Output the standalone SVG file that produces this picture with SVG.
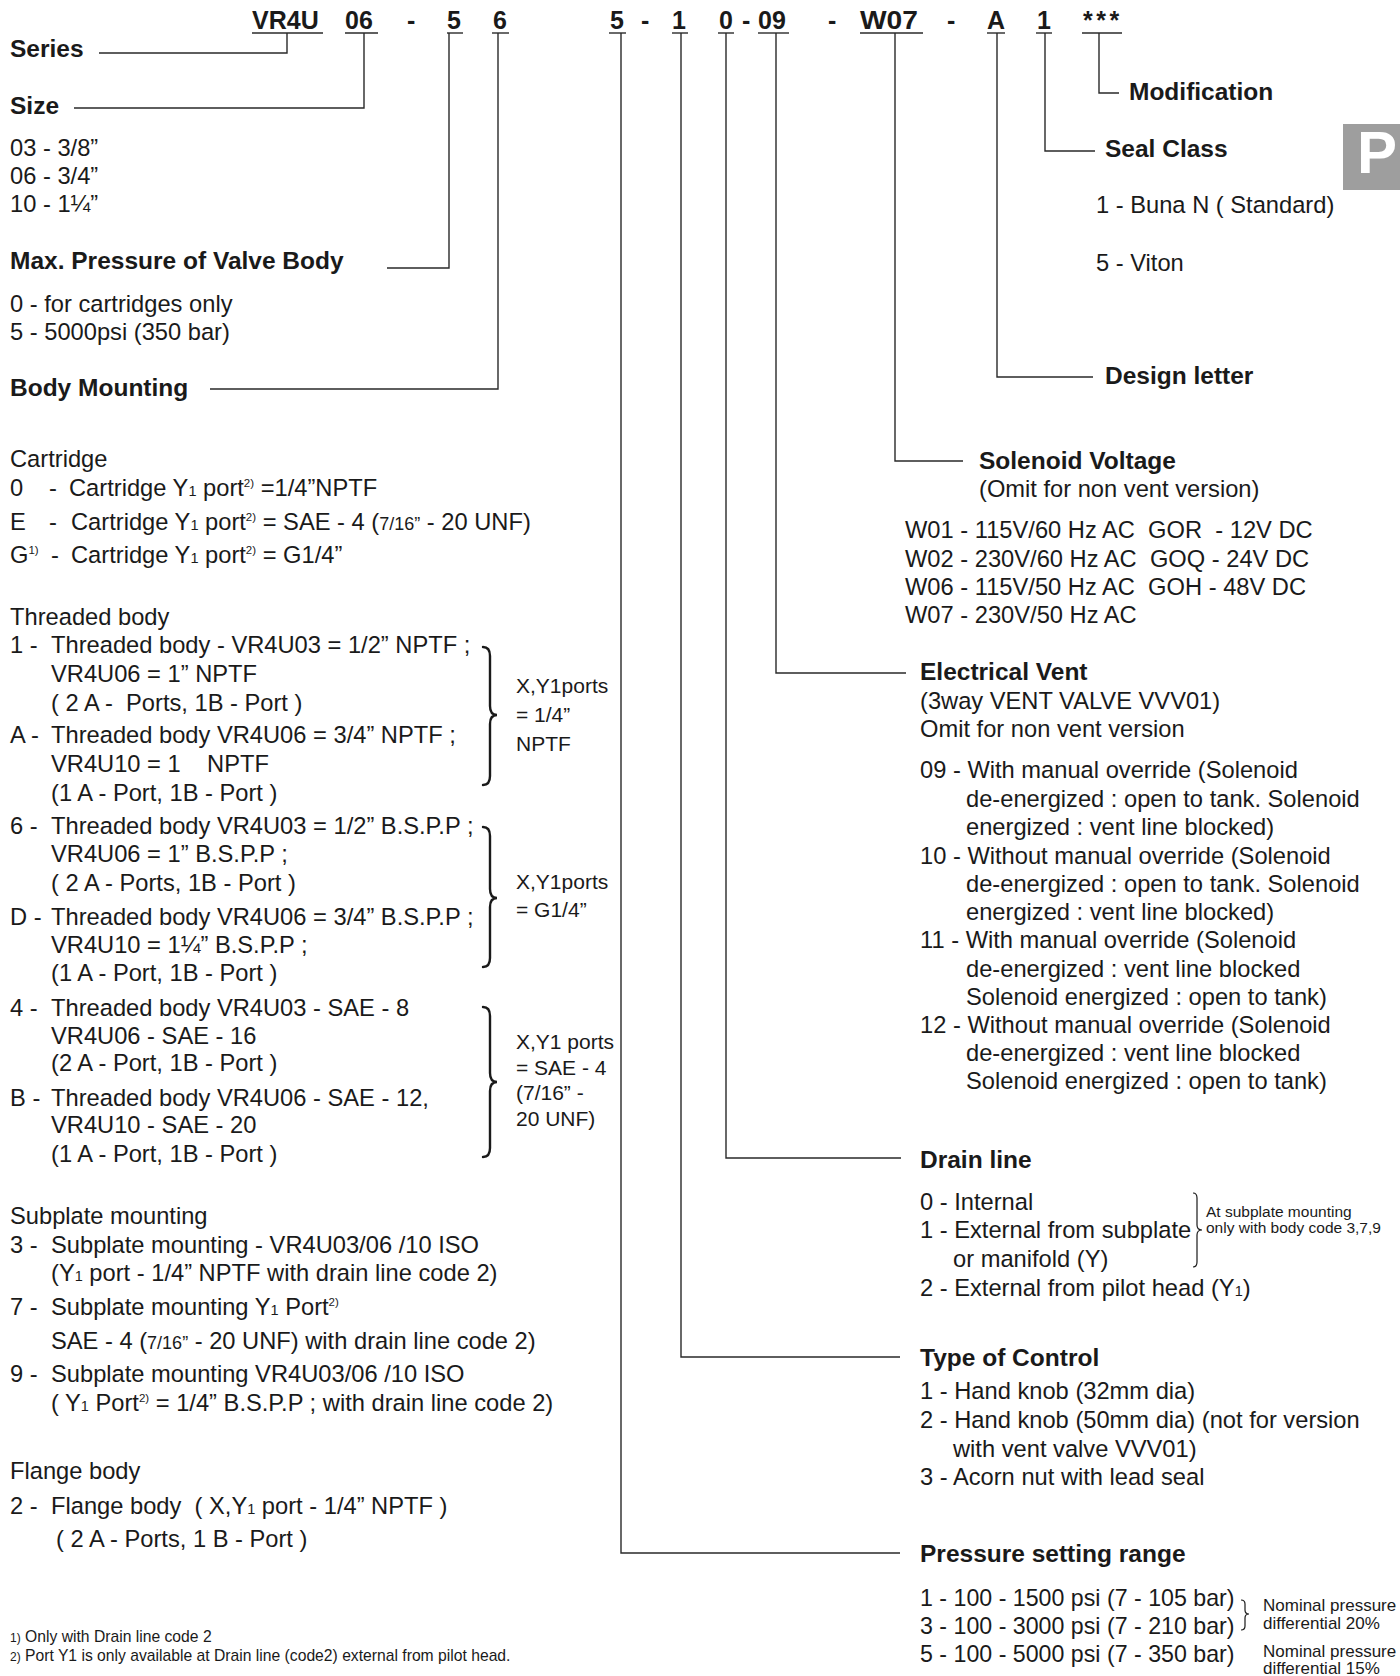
<svg xmlns="http://www.w3.org/2000/svg" width="1400" height="1676" viewBox="0 0 1400 1676">
<style>
text{font-family:"Liberation Sans",Arial,sans-serif;fill:#1a1a1a}
.t{font-size:23.7px}
.p{font-size:23.2px}
.b{font-size:24.5px;font-weight:bold}
.h{font-size:25px;font-weight:bold}
.s{font-size:21px}
.n{font-size:17px}
.m{font-size:15.5px}
.f{font-size:15.7px}
.sub{font-size:14.5px}
.sup{font-size:11.5px}
.fr{font-size:18px}
.ln{fill:none;stroke:#2a2a2a;stroke-width:1.4}
.br{fill:none;stroke:#1a1a1a;stroke-width:2.4;stroke-linecap:round}
.brt{fill:none;stroke:#1a1a1a;stroke-width:1.2}
</style>
<rect width="1400" height="1676" fill="#ffffff"/>

<g id="header">
<text class="h" x="252" y="29">VR4U</text>
<text class="h" x="345" y="29">06</text>
<text class="h" x="407" y="29">-</text>
<text class="h" x="447" y="29">5</text>
<text class="h" x="493" y="29">6</text>
<text class="h" x="610" y="29">5</text>
<text class="h" x="641" y="29">-</text>
<text class="h" x="672" y="29">1</text>
<text class="h" x="719" y="29">0</text>
<text class="h" x="742" y="29">-</text>
<text class="h" x="758" y="29">09</text>
<text class="h" x="828" y="29">-</text>
<text class="h" x="860" y="29" textLength="58" lengthAdjust="spacingAndGlyphs">W07</text>
<text class="h" x="947" y="29">-</text>
<text class="h" x="987" y="29">A</text>
<text class="h" x="1037" y="29">1</text>
<text class="h" x="1083" y="29" letter-spacing="3.5">***</text>
<g class="ln">
<line x1="252" y1="33" x2="323" y2="33"/>
<line x1="345" y1="33" x2="378" y2="33"/>
<line x1="447" y1="33" x2="463" y2="33"/>
<line x1="492" y1="33" x2="509" y2="33"/>
<line x1="609" y1="33" x2="626" y2="33"/>
<line x1="672" y1="33" x2="688" y2="33"/>
<line x1="718" y1="33" x2="734" y2="33"/>
<line x1="758" y1="33" x2="789" y2="33"/>
<line x1="860" y1="33" x2="923" y2="33"/>
<line x1="987" y1="33" x2="1005" y2="33"/>
<line x1="1036" y1="33" x2="1052" y2="33"/>
<line x1="1082" y1="33" x2="1122" y2="33"/>
</g>
</g>

<g id="connectors" class="ln">
<polyline points="287,33 287,53 99,53"/>
<polyline points="364,33 364,108 74,108"/>
<polyline points="449,33 449,268 387,268"/>
<polyline points="498,33 498,389 210,389"/>
<polyline points="621,33 621,1553 900,1553"/>
<polyline points="681,33 681,1357 900,1357"/>
<polyline points="726,33 726,1158 901,1158"/>
<polyline points="776,33 776,673 906,673"/>
<polyline points="895,33 895,461 963,461"/>
<polyline points="997,33 997,377 1093,377"/>
<polyline points="1045,33 1045,151 1095,151"/>
<polyline points="1099,33 1099,93 1119,93"/>
</g>

<g id="tab">
<rect x="1343" y="124" width="57" height="66" fill="#9e9e9e"/>
<text x="1357" y="173" style="font-size:60px;font-weight:bold;fill:#ffffff">P</text>
</g>

<g id="series"><text class="b" x="10" y="57">Series</text></g>

<g id="size">
<text class="b" x="10" y="114">Size</text>
<text class="t" x="10" y="156">03 - 3/8”</text>
<text class="t" x="10" y="184">06 - 3/4”</text>
<text class="t" x="10" y="212">10 - 1¼”</text>
</g>

<g id="max-pressure">
<text class="b" x="10" y="269">Max. Pressure of Valve Body</text>
<text class="t" x="10" y="312">0 - for cartridges only</text>
<text class="t" x="10" y="340">5 - 5000psi (350 bar)</text>
</g>

<g id="body-mounting">
<text class="b" x="10" y="396">Body Mounting</text>
<text class="t" x="10" y="467">Cartridge</text>
<text class="t" y="496"><tspan x="10">0</tspan><tspan x="49">-</tspan><tspan x="69">Cartridge Y</tspan><tspan class="sub">1</tspan><tspan> port</tspan><tspan class="sup" dy="-9">2)</tspan><tspan dy="9"> =1/4”NPTF</tspan></text>
<text class="t" y="530"><tspan x="10">E</tspan><tspan x="49">-</tspan><tspan x="71">Cartridge Y</tspan><tspan class="sub">1</tspan><tspan> port</tspan><tspan class="sup" dy="-9">2)</tspan><tspan dy="9"> = SAE - 4 (</tspan><tspan class="fr">7/16”</tspan><tspan> - 20 UNF)</tspan></text>
<text class="t" y="563"><tspan x="10">G</tspan><tspan class="sup" dy="-9">1)</tspan><tspan x="51" dy="9">-</tspan><tspan x="71">Cartridge Y</tspan><tspan class="sub">1</tspan><tspan> port</tspan><tspan class="sup" dy="-9">2)</tspan><tspan dy="9"> = G1/4”</tspan></text>

<text class="t" x="10" y="625">Threaded body</text>
<text class="t" y="653"><tspan x="10">1 -</tspan><tspan x="51">Threaded body - VR4U03 = 1/2” NPTF ;</tspan></text>
<text class="t" x="51" y="682">VR4U06 = 1” NPTF</text>
<text class="t" x="51" y="711" xml:space="preserve">( 2 A -  Ports, 1B - Port )</text>
<text class="t" y="743"><tspan x="10">A -</tspan><tspan x="51">Threaded body VR4U06 = 3/4” NPTF ;</tspan></text>
<text class="t" x="51" y="772" xml:space="preserve">VR4U10 = 1    NPTF</text>
<text class="t" x="51" y="801">(1 A - Port, 1B - Port )</text>
<text class="t" y="834"><tspan x="10">6 -</tspan><tspan x="51">Threaded body VR4U03 = 1/2” B.S.P.P ;</tspan></text>
<text class="t" x="51" y="862">VR4U06 = 1” B.S.P.P ;</text>
<text class="t" x="51" y="891">( 2 A - Ports, 1B - Port )</text>
<text class="t" y="925"><tspan x="10">D -</tspan><tspan x="51">Threaded body VR4U06 = 3/4” B.S.P.P ;</tspan></text>
<text class="t" x="51" y="953">VR4U10 = 1¼” B.S.P.P ;</text>
<text class="t" x="51" y="981">(1 A - Port, 1B - Port )</text>
<text class="t" y="1016"><tspan x="10">4 -</tspan><tspan x="51">Threaded body VR4U03 - SAE - 8</tspan></text>
<text class="t" x="51" y="1044">VR4U06 - SAE - 16</text>
<text class="t" x="51" y="1071">(2 A - Port, 1B - Port )</text>
<text class="t" y="1106"><tspan x="10">B -</tspan><tspan x="51">Threaded body VR4U06 - SAE - 12,</tspan></text>
<text class="t" x="51" y="1133">VR4U10 - SAE - 20</text>
<text class="t" x="51" y="1162">(1 A - Port, 1B - Port )</text>

<path class="br" d="M483,647 Q490,647 490,656 L490,706 Q490,715 497,715 Q490,715 490,724 L490,776 Q490,785 483,785"/>
<text class="s" x="516" y="693">X,Y1ports</text>
<text class="s" x="516" y="722">= 1/4”</text>
<text class="s" x="516" y="751">NPTF</text>

<path class="br" d="M483,827 Q490,827 490,836 L490,889 Q490,898 497,898 Q490,898 490,907 L490,958 Q490,967 483,967"/>
<text class="s" x="516" y="889">X,Y1ports</text>
<text class="s" x="516" y="917">= G1/4”</text>

<path class="br" d="M483,1007 Q490,1007 490,1016 L490,1073 Q490,1082 497,1082 Q490,1082 490,1091 L490,1148 Q490,1157 483,1157"/>
<text class="s" x="516" y="1049">X,Y1 ports</text>
<text class="s" x="516" y="1075">= SAE - 4</text>
<text class="s" x="516" y="1100">(7/16” -</text>
<text class="s" x="516" y="1126">20 UNF)</text>

<text class="t" x="10" y="1224">Subplate mounting</text>
<text class="t" y="1253"><tspan x="10">3 -</tspan><tspan x="51">Subplate mounting - VR4U03/06 /10 ISO</tspan></text>
<text class="t" x="51" y="1281"><tspan>(Y</tspan><tspan class="sub">1</tspan><tspan> port - 1/4” NPTF with drain line code 2)</tspan></text>
<text class="t" y="1315"><tspan x="10">7 -</tspan><tspan x="51">Subplate mounting Y</tspan><tspan class="sub">1</tspan><tspan> Port</tspan><tspan class="sup" dy="-9">2)</tspan></text>
<text class="t" x="51" y="1349"><tspan>SAE - 4 (</tspan><tspan class="fr">7/16”</tspan><tspan> - 20 UNF) with drain line code 2)</tspan></text>
<text class="t" y="1382"><tspan x="10">9 -</tspan><tspan x="51">Subplate mounting VR4U03/06 /10 ISO</tspan></text>
<text class="t" x="51" y="1411"><tspan>( Y</tspan><tspan class="sub">1</tspan><tspan> Port</tspan><tspan class="sup" dy="-9">2)</tspan><tspan dy="9"> = 1/4” B.S.P.P ; with drain line code 2)</tspan></text>

<text class="t" x="10" y="1479">Flange body</text>
<text class="t" y="1514" xml:space="preserve"><tspan x="10">2 -</tspan><tspan x="51">Flange body  ( X,Y</tspan><tspan class="sub">1</tspan><tspan> port - 1/4” NPTF )</tspan></text>
<text class="t" x="56" y="1547">( 2 A - Ports, 1 B - Port )</text>
</g>

<g id="footnotes">
<text class="f" x="10" y="1642"><tspan font-size="12">1)</tspan><tspan> Only with Drain line code 2</tspan></text>
<text class="f" x="10" y="1661"><tspan font-size="12">2)</tspan><tspan> Port Y1 is only available at Drain line (code2) external from pilot head.</tspan></text>
</g>

<g id="modification"><text class="b" x="1129" y="100">Modification</text></g>

<g id="seal-class">
<text class="b" x="1105" y="157">Seal Class</text>
<text class="t" x="1096" y="213">1 - Buna N ( Standard)</text>
<text class="t" x="1096" y="271">5 - Viton</text>
</g>

<g id="design-letter"><text class="b" x="1105" y="384">Design letter</text></g>

<g id="solenoid-voltage">
<text class="b" x="979" y="469">Solenoid Voltage</text>
<text class="t" x="979" y="497">(Omit for non vent version)</text>
<text class="t" x="905" y="538" xml:space="preserve">W01 - 115V/60 Hz AC  GOR  - 12V DC</text>
<text class="t" x="905" y="567" xml:space="preserve">W02 - 230V/60 Hz AC  GOQ - 24V DC</text>
<text class="t" x="905" y="595" xml:space="preserve">W06 - 115V/50 Hz AC  GOH - 48V DC</text>
<text class="t" x="905" y="623">W07 - 230V/50 Hz AC</text>
</g>

<g id="electrical-vent">
<text class="b" x="920" y="680">Electrical Vent</text>
<text class="t" x="920" y="709">(3way VENT VALVE VVV01)</text>
<text class="t" x="920" y="737">Omit for non vent version</text>
<text class="t" x="920" y="778">09 - With manual override (Solenoid</text>
<text class="t" x="966" y="807">de-energized : open to tank. Solenoid</text>
<text class="t" x="966" y="835">energized : vent line blocked)</text>
<text class="t" x="920" y="864">10 - Without manual override (Solenoid</text>
<text class="t" x="966" y="892">de-energized : open to tank. Solenoid</text>
<text class="t" x="966" y="920">energized : vent line blocked)</text>
<text class="t" x="920" y="948">11 - With manual override (Solenoid</text>
<text class="t" x="966" y="977">de-energized : vent line blocked</text>
<text class="t" x="966" y="1005">Solenoid energized : open to tank)</text>
<text class="t" x="920" y="1033">12 - Without manual override (Solenoid</text>
<text class="t" x="966" y="1061">de-energized : vent line blocked</text>
<text class="t" x="966" y="1089">Solenoid energized : open to tank)</text>
</g>

<g id="drain-line">
<text class="b" x="920" y="1168">Drain line</text>
<text class="t" x="920" y="1210">0 - Internal</text>
<text class="t" x="920" y="1238">1 - External from subplate</text>
<text class="t" x="953" y="1267">or manifold (Y)</text>
<text class="t" x="920" y="1296"><tspan>2 - External from pilot head (Y</tspan><tspan class="sub">1</tspan><tspan>)</tspan></text>
<path class="brt" d="M1193,1193 Q1197,1193 1197,1198 L1197,1225 Q1197,1230 1202,1230 Q1197,1230 1197,1235 L1197,1262 Q1197,1267 1193,1267"/>
<text class="m" x="1206" y="1217">At subplate mounting</text>
<text class="m" x="1206" y="1233">only with body code 3,7,9</text>
</g>

<g id="type-of-control">
<text class="b" x="920" y="1366">Type of Control</text>
<text class="t" x="920" y="1399">1 - Hand knob (32mm dia)</text>
<text class="t" x="920" y="1428">2 - Hand knob (50mm dia) (not for version</text>
<text class="t" x="953" y="1457">with vent valve VVV01)</text>
<text class="t" x="920" y="1485">3 - Acorn nut with lead seal</text>
</g>

<g id="pressure-setting-range">
<text class="b" x="920" y="1562">Pressure setting range</text>
<text class="p" x="920" y="1606">1 - 100 - 1500 psi (7 - 105 bar)</text>
<text class="p" x="920" y="1634">3 - 100 - 3000 psi (7 - 210 bar)</text>
<text class="p" x="920" y="1662">5 - 100 - 5000 psi (7 - 350 bar)</text>
<path class="brt" d="M1241,1600 Q1245,1600 1245,1604 L1245,1610 Q1245,1614 1249,1614 Q1245,1614 1245,1618 L1245,1626 Q1245,1630 1241,1630"/>
<text class="n" x="1263" y="1611">Nominal pressure</text>
<text class="n" x="1263" y="1629">differential 20%</text>
<text class="n" x="1263" y="1657">Nominal pressure</text>
<text class="n" x="1263" y="1674">differential 15%</text>
</g>
</svg>
